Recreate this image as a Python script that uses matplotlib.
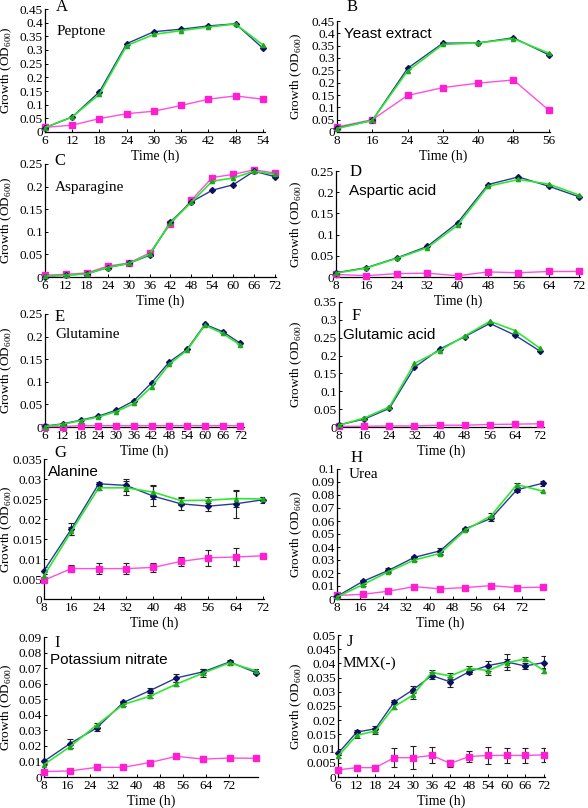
import matplotlib
matplotlib.use('Agg')
import matplotlib.pyplot as plt
from matplotlib.ticker import FuncFormatter

plt.rcParams['font.family'] = ['Liberation Serif', 'DejaVu Serif']
plt.rcParams['mathtext.fontset'] = 'custom'
plt.rcParams['mathtext.rm'] = 'Liberation Serif'

# ---- data ----
# A Peptone
a_time = [6, 12, 18, 24, 30, 36, 42, 48, 54]
a_blue = [0.016, 0.055, 0.147, 0.323, 0.367, 0.376, 0.388, 0.396, 0.307]
a_green = [0.016, 0.055, 0.138, 0.316, 0.357, 0.371, 0.384, 0.395, 0.319]
a_pink = [0.017, 0.025, 0.049, 0.067, 0.076, 0.097, 0.120, 0.132, 0.120]

# B Yeast extract
b_time = [8, 16, 24, 32, 40, 48, 56]
b_blue = [0.016, 0.047, 0.258, 0.360, 0.361, 0.382, 0.313]
b_green = [0.014, 0.047, 0.247, 0.355, 0.361, 0.378, 0.320]
b_pink = [0.020, 0.050, 0.148, 0.180, 0.198, 0.211, 0.089]

# C Asparagine
c_time = [6, 12, 18, 24, 30, 36, 42, 48, 54, 60, 66, 72]
c_blue = [0.001, 0.004, 0.007, 0.021, 0.030, 0.048, 0.122, 0.166, 0.192, 0.204, 0.234, 0.222]
c_green = [0.002, 0.004, 0.007, 0.021, 0.030, 0.050, 0.120, 0.165, 0.212, 0.219, 0.234, 0.227]
c_pink = [0.004, 0.006, 0.009, 0.024, 0.031, 0.053, 0.117, 0.170, 0.220, 0.227, 0.237, 0.230]

# D Aspartic acid
d_time = [8, 16, 24, 32, 40, 48, 56, 64, 72]
d_blue = [0.010, 0.022, 0.045, 0.072, 0.128, 0.218, 0.236, 0.214, 0.189]
d_green = [0.009, 0.021, 0.044, 0.069, 0.122, 0.214, 0.230, 0.219, 0.193]
d_pink = [0.006, 0.003, 0.008, 0.009, 0.003, 0.012, 0.010, 0.013, 0.013]

# E Glutamine
e_time = [6, 12, 18, 24, 30, 36, 42, 48, 54, 60, 66, 72]
e_blue = [0.002, 0.007, 0.015, 0.024, 0.037, 0.058, 0.098, 0.144, 0.172, 0.227, 0.211, 0.185]
e_green = [0.001, 0.006, 0.014, 0.022, 0.034, 0.052, 0.089, 0.139, 0.170, 0.225, 0.207, 0.181]
e_pink = [0.001, 0.001, 0.003, 0.003, 0.003, 0.003, 0.003, 0.003, 0.003, 0.003, 0.003, 0.003]

# F Glutamic acid
f_time = [8, 16, 24, 32, 40, 48, 56, 64, 72]
f_blue = [0.006, 0.022, 0.052, 0.167, 0.218, 0.253, 0.290, 0.257, 0.212]
f_green = [0.005, 0.025, 0.056, 0.178, 0.214, 0.255, 0.296, 0.270, 0.220]
f_pink = [0.002, 0.002, 0.003, 0.003, 0.005, 0.005, 0.007, 0.008, 0.009]

# G Alanine
g_time = [8, 16, 24, 32, 40, 48, 56, 64, 72]
g_blue = [0.0071, 0.0175, 0.0288, 0.0284, 0.0257, 0.0238, 0.0232, 0.0238, 0.0248]
g_green = [0.0058, 0.0169, 0.0278, 0.0278, 0.0267, 0.0246, 0.0247, 0.0251, 0.0250]
g_pink = [0.0047, 0.0076, 0.0076, 0.0076, 0.0079, 0.0094, 0.0103, 0.0105, 0.0108]
g_blue_err = [0.0008, 0.0016, 0.0005, 0.0015, 0.0025, 0.0015, 0.0012, 0.0035, 0.0008]
g_green_err = [0.0005, 0.0010, 0.0005, 0.0018, 0.0017, 0.0010, 0.0008, 0.0020, 0.0005]
g_pink_err = [0.0004, 0.0008, 0.0013, 0.0013, 0.0011, 0.0012, 0.0020, 0.0023, 0.0003]

# H Urea
h_time = [8, 16.9, 25.8, 34.7, 43.6, 52.4, 61.3, 70.2, 79.1]
h_blue = [0.002, 0.0135, 0.022, 0.032, 0.037, 0.054, 0.062, 0.084, 0.089]
h_green = [0.0015, 0.011, 0.021, 0.030, 0.035, 0.053, 0.064, 0.088, 0.083]
h_pink = [0.0027, 0.0036, 0.006, 0.0095, 0.0078, 0.0088, 0.0103, 0.0087, 0.0091]
h_blue_err = [0.0005, 0.001, 0.0015, 0.001, 0.0025, 0.001, 0.002, 0.002, 0.002]
h_green_err = [0.0005, 0.0008, 0.001, 0.001, 0.001, 0.001, 0.002, 0.0015, 0.0008]
h_pink_err = [0.0005, 0.0005, 0.001, 0.0008, 0.0015, 0.0008, 0.0012, 0.0008, 0.0012]

# I Potassium nitrate
i_time = [8, 17, 26.2, 35.4, 44.6, 53.8, 63, 72.2, 81.4]
i_blue = [0.0101, 0.0215, 0.0315, 0.0479, 0.0555, 0.0637, 0.0676, 0.0740, 0.0670]
i_green = [0.0080, 0.0195, 0.0334, 0.0466, 0.0519, 0.0597, 0.0668, 0.0734, 0.0682]
i_pink = [0.0035, 0.0039, 0.0062, 0.0062, 0.0093, 0.0133, 0.0115, 0.0122, 0.0120]
i_blue_err = [0.0008, 0.003, 0.0022, 0.001, 0.0015, 0.0025, 0.002, 0.001, 0.001]
i_green_err = [0.0005, 0.001, 0.001, 0.001, 0.001, 0.0015, 0.0025, 0.0012, 0.0012]
i_pink_err = [0.0003, 0.0005, 0.0005, 0.0016, 0.0005, 0.0012, 0.0018, 0.001, 0.0004]

# J MMX(-)
j_time = [6, 12, 18, 24, 30, 36, 42, 48, 54, 60, 66, 72]
j_blue = [0.0083, 0.0158, 0.0170, 0.0264, 0.0307, 0.0357, 0.0335, 0.0371, 0.0392, 0.0405, 0.0391, 0.0403]
j_green = [0.0073, 0.0147, 0.0162, 0.0248, 0.0288, 0.0368, 0.0356, 0.0383, 0.0375, 0.0402, 0.0416, 0.0375]
j_pink = [0.0025, 0.0033, 0.0033, 0.0068, 0.0068, 0.0076, 0.0048, 0.0072, 0.0076, 0.0076, 0.0076, 0.0078]
j_blue_err = [0.0005, 0.0007, 0.0010, 0.0008, 0.0012, 0.0012, 0.0018, 0.0008, 0.0018, 0.0028, 0.0012, 0.0024]
j_green_err = [0.0005, 0.0008, 0.0012, 0.0008, 0.0012, 0.0008, 0.0010, 0.0008, 0.0015, 0.0015, 0.0008, 0.0008]
j_pink_err = [0.0005, 0.0008, 0.0008, 0.0034, 0.0040, 0.0028, 0.0012, 0.0019, 0.0029, 0.0026, 0.0026, 0.0025]

panels = [
    # letter, name, name font, time, blue, green, pink, errors,
    # box(px: x0, x1, ytop, ybottom), xlim, xticks, ymax, ystep, letter pos, name pos
    ('A', 'Peptone', 'serif', a_time, a_blue, a_green, a_pink, None,
     (45, 265, 9, 132), (6, 54.5), list(range(6, 55, 6)), 0.45, 0.05, (62, 7), (57, 31)),
    ('B', 'Yeast extract', 'sans', b_time, b_blue, b_green, b_pink, None,
     (337, 550, 21, 132), (8, 56.3), list(range(8, 57, 8)), 0.45, 0.05, (352, 7), (344, 34)),
    ('C', 'Asparagine', 'serif', c_time, c_blue, c_green, c_pink, None,
     (45, 276, 164, 277), (6, 72.3), list(range(6, 73, 6)), 0.25, 0.05, (60, 161), (55, 188)),
    ('D', 'Aspartic acid', 'sans', d_time, d_blue, d_green, d_pink, None,
     (336, 580, 171, 277), (8, 72.2), list(range(8, 73, 8)), 0.25, 0.05, (356, 172), (349, 191)),
    ('E', 'Glutamine', 'serif', e_time, e_blue, e_green, e_pink, None,
     (45, 244, 314, 427), (6, 73.2), list(range(6, 73, 6)), 0.25, 0.05, (60, 317), (55, 335)),
    ('F', 'Glutamic acid', 'sans', f_time, f_blue, f_green, f_pink, None,
     (339, 544, 302, 427), (8, 73.2), list(range(8, 73, 8)), 0.35, 0.05, (356, 316), (343, 335)),
    ('G', 'Alanine', 'sans', g_time, g_blue, g_green, g_pink, (g_blue_err, g_green_err, g_pink_err),
     (44, 264, 459, 599), (8, 72.3), list(range(8, 73, 8)), 0.035, 0.005, (60, 453), (48, 472)),
    ('H', 'Urea', 'serif', h_time, h_blue, h_green, h_pink, (h_blue_err, h_green_err, h_pink_err),
     (337, 544, 469, 599), (8, 79.6), list(range(8, 73, 8)), 0.1, 0.01, (357, 458), (349, 475)),
    ('I', 'Potassium nitrate', 'sans', i_time, i_blue, i_green, i_pink, (i_blue_err, i_green_err, i_pink_err),
     (44, 258, 637, 777), (8, 82), list(range(8, 73, 8)), 0.09, 0.01, (57, 643), (50, 660)),
    ('J', 'MMX(-)', 'serif', j_time, j_blue, j_green, j_pink, (j_blue_err, j_green_err, j_pink_err),
     (338, 545, 635, 777), (6, 72.3), list(range(6, 73, 6)), 0.05, 0.005, (350, 642), (343, 663)),
]

W, H = 588, 808
fig = plt.figure(figsize=(W / 100, H / 100), dpi=100)

blue_line = '#2b3a9a'
blue_mark = '#0c1260'
green_line = '#2ee82e'
green_mark = '#1fa81f'
pink_line = '#ff4fe0'
pink_mark = '#ff1fd0'

fmt = FuncFormatter(lambda v, pos: '%g' % round(v, 4))

for (letter, name, nfont, t, yb, yg, yp, errs, box, xl, xt, ymax, ystep, lpos, npos) in panels:
    x0, x1, yt, ybt = box
    ax = fig.add_axes([x0 / W, 1 - ybt / H, (x1 - x0) / W, (ybt - yt) / H])
    ax.patch.set_alpha(0)
    if errs is not None:
        for yy, ee in zip((yb, yg, yp), errs):
            ax.errorbar(t, yy, yerr=ee, fmt='none', ecolor='#222222', elinewidth=0.8,
                        capsize=2, capthick=0.8, zorder=1)
    ax.plot(t, yp, color=pink_line, lw=1.0, marker='s', ms=4.2, mfc=pink_mark, mec=pink_mark, zorder=3, clip_on=False)
    ax.plot(t, yb, color=blue_line, lw=1.0, marker='D', ms=3.0, mfc=blue_mark, mec=blue_mark, zorder=4, clip_on=False)
    ax.plot(t, yg, color=green_line, lw=1.2, marker='^', ms=3.0, mfc=green_mark, mec=green_mark, zorder=5, clip_on=False)

    ax.set_xlim(*xl)
    ax.set_ylim(0, ymax)
    ax.set_xticks(xt)
    n = int(round(ymax / ystep))
    ax.set_yticks([k * ystep for k in range(n + 1)])
    ax.yaxis.set_major_formatter(fmt)
    ax.spines['top'].set_visible(False)
    ax.spines['right'].set_visible(False)
    ax.spines['left'].set_linewidth(0.9)
    ax.spines['bottom'].set_linewidth(0.9)
    ax.tick_params(direction='in', length=2, width=0.7, labelsize=9.5, pad=2)
    ax.tick_params(axis='y', pad=1.5)
    ax.set_xlabel('Time (h)', fontsize=10, labelpad=2)
    ax.set_ylabel(r'Growth (OD$_{\mathregular{600}}$)', fontsize=9.5)
    lab_x = 14 if x0 < 200 else 304
    ax.yaxis.set_label_coords(lab_x / W, 1 - (yt + ybt) / 2 / H, transform=fig.transFigure)

    fig.text(lpos[0] / W, 1 - lpos[1] / H, letter, fontsize=12, ha='center', va='center')
    fam = ['Liberation Serif'] if nfont == 'serif' else ['Liberation Sans']
    fig.text(npos[0] / W, 1 - npos[1] / H, name, fontsize=11, family=fam, ha='left', va='center')

fig.savefig('out.png', dpi=100)
